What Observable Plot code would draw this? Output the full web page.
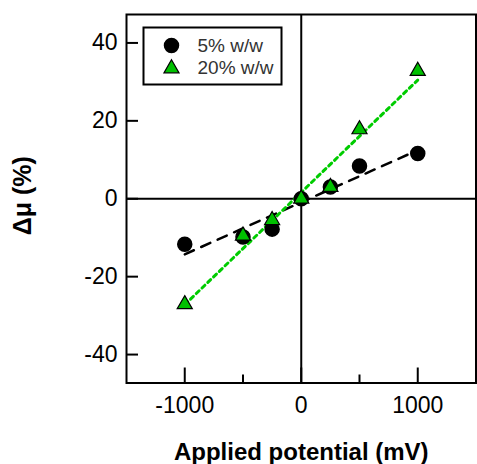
<!DOCTYPE html>
<html>
<head>
<meta charset="utf-8">
<script src="https://cdn.jsdelivr.net/npm/d3@7"></script>
<script src="https://cdn.jsdelivr.net/npm/@observablehq/plot@0.6"></script>
<style>
  html, body { margin: 0; padding: 0; background: #fff; }
  svg { display: block; }
</style>
</head>
<body>
<div id="chart"></div>
<script>
const potentials = [-1000, -500, -250, 0, 250, 500, 1000];
const dmu5 = [-11.7, -9.8, -7.8, 0, 3, 8.4, 11.6];
const dmu20 = [-27.1, -9.5, -5.5, 0, 3, 17.8, 32.8];
const seriesLabels = ["5% w/w", "20% w/w"];
const xMajorTicks = [-1000, 0, 1000];
const xMinorTicks = [-500, 500];
const yTicks = [-40, -20, 0, 20, 40];
const xLabel = "Applied potential (mV)";
const yLabel = "Δμ (%)";

const W = 477, H = 464;
const mL = 126, mR = 1.5, mT = 14, mB = 81.5;
const pw = W - mL - mR, ph = H - mT - mB;

const d5 = potentials.map((x, i) => ({x, y: dmu5[i]}));
const d20 = potentials.map((x, i) => ({x, y: dmu20[i]}));

const font = "Liberation Sans, Arial, sans-serif";
const fmt = d => String(d);

const chart = Plot.plot({
  width: W, height: H,
  marginLeft: mL, marginRight: mR, marginTop: mT, marginBottom: mB,
  style: {fontFamily: font, background: "white"},
  x: {domain: [-1500, 1500]},
  y: {domain: [-47.3, 47.3]},
  marks: [
    Plot.ruleX([0], {stroke: "black", strokeWidth: 2}),
    Plot.ruleY([0], {stroke: "black", strokeWidth: 2}),
    Plot.tickX(xMajorTicks, {x: d => d, insetTop: ph - 15, stroke: "black", strokeWidth: 2}),
    Plot.tickX(xMinorTicks, {x: d => d, insetTop: ph - 8, stroke: "black", strokeWidth: 2}),
    Plot.tickY(yTicks, {y: d => d, insetRight: pw - 12, stroke: "black", strokeWidth: 2}),
    Plot.axisX(xMajorTicks, {tickSize: 0, tickPadding: 14, fontSize: 23, fill: "black", label: null, tickFormat: fmt}),
    Plot.axisY(yTicks, {tickSize: 0, tickPadding: 9, fontSize: 23, fill: "black", label: null, tickFormat: fmt}),
    Plot.text([xLabel], {frameAnchor: "bottom", textAnchor: "middle", dy: 77, fontSize: 24, fontWeight: "bold", fill: "black", text: d => d}),
    Plot.text([yLabel], {frameAnchor: "left", textAnchor: "middle", dx: -104, dy: -3, rotate: -90, fontSize: 25, fontWeight: "bold", fill: "black", text: d => d}),
    Plot.linearRegressionY(d5, {x: "x", y: "y", ci: 0, stroke: "black", strokeWidth: 2.5, strokeDasharray: "10,8"}),
    Plot.linearRegressionY(d20, {x: "x", y: "y", ci: 0, stroke: "#00cc00", strokeWidth: 3, strokeDasharray: "4,4"}),
    Plot.dot(d5, {x: "x", y: "y", r: 7, fill: "black", stroke: "black"}),
    Plot.dot(d20, {x: "x", y: "y", r: 5.6, symbol: "triangle", fill: "#00c000", stroke: "black", strokeWidth: 1.2}),
    Plot.frame({stroke: "black", strokeWidth: 2}),
    // legend
    Plot.frame({insetLeft: 17, insetTop: 13, insetRight: pw - 155, insetBottom: ph - 70, fill: "white", stroke: "black", strokeWidth: 2}),
    Plot.dot([seriesLabels[0]], {frameAnchor: "top-left", dx: 45, dy: 31, r: 7, fill: "black", stroke: "black"}),
    Plot.dot([seriesLabels[1]], {frameAnchor: "top-left", dx: 45, dy: 54, r: 5.6, symbol: "triangle", fill: "#00c000", stroke: "black", strokeWidth: 1.2}),
    Plot.text([seriesLabels[0]], {frameAnchor: "top-left", dx: 71, dy: 31, text: d => d, textAnchor: "start", lineAnchor: "middle", fontSize: 19, fill: "#333"}),
    Plot.text([seriesLabels[1]], {frameAnchor: "top-left", dx: 71, dy: 53, text: d => d, textAnchor: "start", lineAnchor: "middle", fontSize: 19, fill: "#333"})
  ]
});
document.getElementById("chart").appendChild(chart);
</script>
</body>
</html>
